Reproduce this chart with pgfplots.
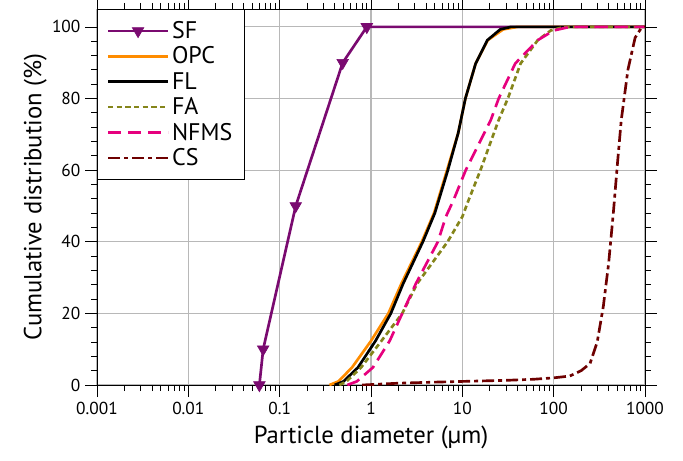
\documentclass[border=0pt]{standalone}
\usepackage{fontspec}
\setmainfont{PT Sans}
\usepackage{pgfplots}
\pgfplotsset{compat=1.18}
\definecolor{sfc}{HTML}{7A0A70}
\definecolor{opcc}{HTML}{FF8C00}
\definecolor{fac}{HTML}{85851A}
\definecolor{nfc}{HTML}{E6007E}
\definecolor{csc}{HTML}{6E0000}
\definecolor{gridc}{HTML}{B8B8B8}

\begin{document}
\begin{tikzpicture}
\begin{axis}[
  name=ax,
  scale only axis, width=411pt, height=282pt,
  xmode=log, xmin=0.001, xmax=1000, ymin=0, ymax=105,
  log basis x=10,
  xticklabels={,0.001,0.01,0.1,1,10,100,1000},
  ytick={0,20,40,60,80,100}, minor y tick num=4,
  tick align=outside, major tick length=9pt, minor tick length=4.5pt,
  tick style={black, line width=0.6pt},
  axis line style={black, line width=0.7pt},
  xmajorgrids, ymajorgrids, major grid style={gridc, line width=0.8pt},
  tick label style={font=\fontsize{13}{15}\selectfont},
  yticklabel style={/pgf/number format/assume math mode=true},
  xlabel={Particle diameter (µm)}, ylabel={Cumulative distribution (\%)},
  label style={font=\fontsize{18.5}{20}\selectfont},
  xlabel style={yshift=-2pt}, ylabel style={yshift=-3pt},
  legend style={at={(0,1)}, anchor=north west, draw=black, line width=0.6pt,
    font=\fontsize{18}{20}\selectfont, row sep=0.8pt, inner xsep=7pt, inner ysep=7pt,
    legend cell align=left},
  legend image code/.code={\draw[#1] (0pt,0pt) -- (45pt,0pt);
    \path[#1, mark repeat=1, mark phase=1] plot coordinates {(22.5pt,0pt)};},
  every axis plot/.append style={line width=2pt},
]
\addplot[sfc, mark=triangle*, mark size=5pt, mark indices={1,2,3,4,5},
  every mark/.append style={rotate=180, line width=0.5pt}] coordinates {
  (0.06,0) (0.066,10) (0.15,50) (0.49,90) (0.9,100) (1000,100) };
\addlegendentry{SF}
\addplot[opcc, mark=none] coordinates {
  (0.35,0) (0.44,1) (0.62,4.9) (1.0,12.3) (1.55,20) (2.15,28.3) (3.6,40)
  (4.9,48) (6.8,60) (9.0,70.3) (10.8,80) (14.0,89.8) (19,96.3) (28,99.3)
  (40,100) (1000,100) };
\addlegendentry{OPC}
\addplot[black, mark=none] coordinates {
  (0.40,0) (0.50,1) (0.72,4.9) (1.12,12.3) (1.65,20) (2.25,28.3) (3.7,40)
  (5.0,48) (6.95,60) (9.0,70.3) (10.8,80) (14,89.8) (18.8,96.3) (26,99.3)
  (34,100) (1000,100) };
\addlegendentry{FL}
\addplot[fac, mark=none, dash pattern=on 4pt off 2.5pt] coordinates {
  (0.45,0) (0.54,1) (0.78,4.9) (1.3,12.3) (2.2,20) (3.2,28.3) (6.9,40)
  (10,47) (11.7,51.6) (15.8,60) (25,74) (31.5,80) (43.5,89.8) (67,96.3)
  (93,99) (130,100) (1000,100) };
\addlegendentry{FA}
\addplot[nfc, mark=none, dash pattern=on 10pt off 5pt] coordinates {
  (0.55,0) (0.7,1) (1.05,4.9) (1.6,12.3) (2.2,20) (3.1,28.3) (5.4,40)
  (6.6,47) (8,51.6) (10.9,60) (20.5,74) (25,80) (38,89.8) (67,96.3)
  (100,99) (150,100) (1000,100) };
\addlegendentry{NFMS}
\addplot[csc, mark=none, dash pattern=on 9pt off 3pt on 3pt off 3pt] coordinates {
  (0.8,0) (2,0.5) (5,0.8) (10,1) (30,1.3) (60,1.6) (100,2) (150,2.5)
  (200,4) (250,6) (300,12) (350,22) (400,34) (450,48) (500,62) (550,74)
  (650,88) (780,97) (900,99.5) (1000,100) };
\addlegendentry{CS}
\end{axis}
\pgfresetboundingbox
\path ([xshift=-72.75pt,yshift=-57pt]ax.south west) rectangle ([xshift=28.5pt,yshift=6.75pt]ax.north east);
\end{tikzpicture}
\end{document}
